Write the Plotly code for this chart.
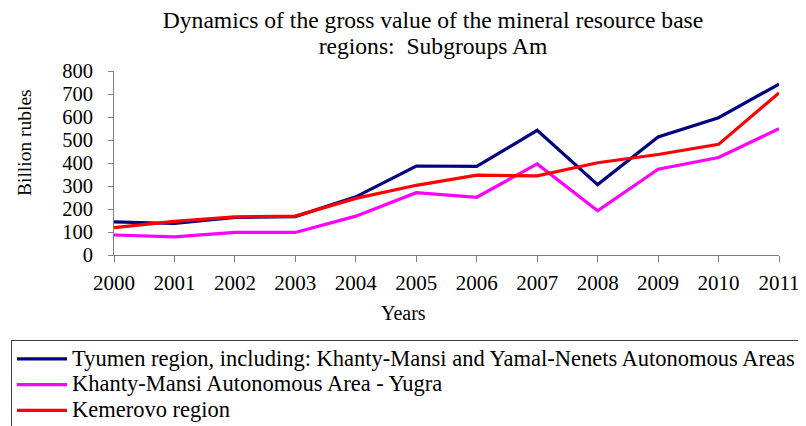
import plotly.graph_objects as go

years = [2000, 2001, 2002, 2003, 2004, 2005, 2006, 2007, 2008, 2009, 2010, 2011]
tyumen = [144, 137, 163, 167, 253, 387, 385, 542, 306, 513, 597, 743]
khanty = [87, 79, 98, 98, 169, 271, 251, 396, 192, 373, 424, 549]
kemerovo = [119, 146, 166, 169, 246, 303, 347, 344, 401, 437, 481, 705]

names = [
    "Tyumen region, including: Khanty-Mansi and Yamal-Nenets Autonomous Areas",
    "Khanty-Mansi Autonomous Area - Yugra",
    "Kemerovo region",
]
colors = ["#000080", "#FF00FF", "#FF0000"]
series = [tyumen, khanty, kemerovo]

FONT = "Liberation Serif"
LEG_TXT = '<span style="font-size:22.5px">{}</span>'
TITLE_TXT = '<span style="font-size:23.6px">{}</span>'
title_lines = ["Dynamics of the gross value of the mineral resource base",
               "regions:  Subgroups Am"]

fig = go.Figure()
for name, vals, col in zip(names, series, colors):
    fig.add_trace(go.Scatter(
        x=years, y=vals, mode="lines", name=LEG_TXT.format(name),
        line=dict(color=col, width=3.2), cliponaxis=False,
    ))

fig.update_layout(
    width=798, height=418,
    margin=dict(l=106, r=27, t=63, b=171, autoexpand=False),
    paper_bgcolor="white", plot_bgcolor="white",
    font=dict(family=FONT, color="black", size=20),
    title=dict(
        text="<br>".join(TITLE_TXT.format(t) for t in title_lines),
        x=0.5326, xanchor="center", yref="container", y=0.952, yanchor="top",
        font=dict(family=FONT, size=20, color="black"),
    ),
    showlegend=True,
    legend=dict(
        x=-0.1549, xanchor="left", y=-0.462, yanchor="top",
        bordercolor="#404040", borderwidth=1,
        font=dict(family=FONT, size=17.5, color="black"),
        tracegroupgap=0, itemwidth=50,
    ),
    annotations=[
        dict(text="Billion rubles", xref="paper", yref="paper",
             x=-0.1338, y=0.6087, xanchor="center", yanchor="middle",
             textangle=-90, showarrow=False,
             font=dict(family=FONT, size=19.5, color="black")),
        dict(text="Years", xref="paper", yref="paper",
             x=0.436, y=-0.315, xanchor="center", yanchor="middle",
             showarrow=False,
             font=dict(family=FONT, size=20, color="black")),
    ],
)

fig.update_xaxes(
    range=[2000, 2011], tickmode="array", tickvals=years,
    ticktext=[str(y) for y in years],
    showline=True, linecolor="#808080", linewidth=1,
    ticks="outside", ticklen=6, tickcolor="#808080",
    ticklabelstandoff=3,
    showgrid=False, zeroline=False,
    tickfont=dict(family=FONT, size=21),
)
fig.update_yaxes(
    range=[0, 800], dtick=100, tick0=0,
    showline=True, linecolor="#808080", linewidth=1,
    ticks="outside", ticklen=5, tickcolor="#808080",
    ticklabelstandoff=11,
    showgrid=False, zeroline=False,
    tickfont=dict(family=FONT, size=20.5),
)

fig.write_html("out.html")
